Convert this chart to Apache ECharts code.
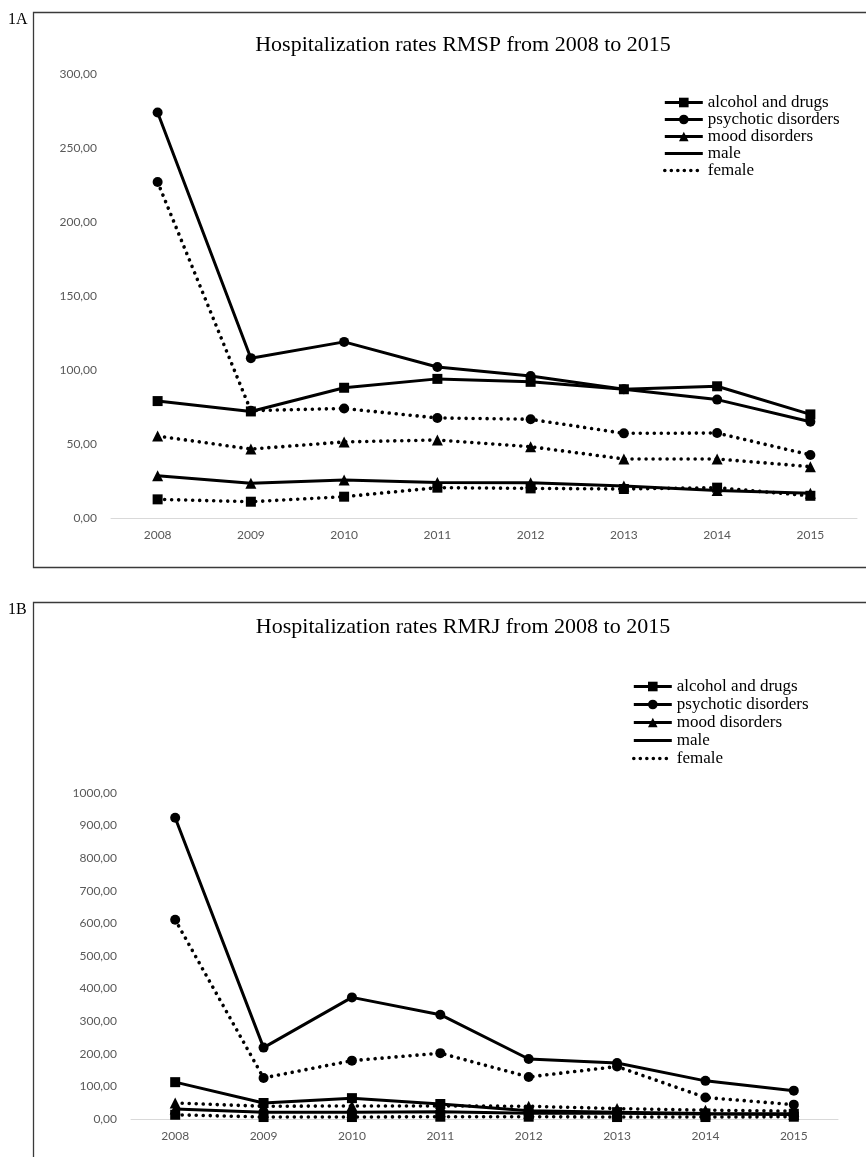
<!DOCTYPE html>
<html>
<head>
<meta charset="utf-8">
<script src="https://cdn.jsdelivr.net/npm/echarts@6/dist/echarts.min.js"></script>
<style>
html,body{margin:0;padding:0;background:#fff;}
#main{width:866px;height:1157px;}
</style>
</head>
<body>
<div id="main"></div>
<script>
// ---------- data ----------
const years = ['2008','2009','2010','2011','2012','2013','2014','2015'];

// Panel 1A: RMSP
const spAlcoholMale   = [79, 72, 88, 94, 92, 87, 89, 70];
const spAlcoholFemale = [12.6, 11, 14.4, 20.5, 20, 19.6, 20.5, 15];
const spPsychMale     = [274, 108, 119, 102, 96, 87, 80, 65];
const spPsychFemale   = [227, 72.5, 74, 67.6, 66.7, 57.2, 57.4, 42.6];
const spMoodMale      = [28.6, 23.4, 25.7, 24, 23.9, 21.6, 18.5, 16.7];
const spMoodFemale    = [55.4, 46.6, 51.4, 52.7, 48.2, 39.9, 39.9, 34.7];

// Panel 1B: RMRJ
const rjAlcoholMale   = [113, 49, 64, 46, 25, 21, 17, 16];
const rjAlcoholFemale = [13, 6, 6, 7, 7, 6, 6, 7];
const rjPsychMale     = [924, 219, 373, 320, 184, 172, 117, 87];
const rjPsychFemale   = [611, 126, 179, 202, 129, 161, 66, 44];
const rjMoodMale      = [31, 21, 21, 22, 18, 18, 15, 14];
const rjMoodFemale    = [49, 39, 40, 40, 39, 32, 27, 24];

const titleA = 'Hospitalization rates RMSP from 2008 to 2015';
const titleB = 'Hospitalization rates RMRJ from 2008 to 2015';
const legendNames = ['alcohol and drugs', 'psychotic disorders', 'mood disorders', 'male', 'female'];

// ---------- styling ----------
const serif = '"Liberation Serif", "DejaVu Serif", serif';
const sans = 'Lato, "Open Sans", sans-serif';
const solidLine = {color: '#000', width: 3};
const dotLine = {color: '#000', width: 3.6, type: [0.01, 7], cap: 'round'};
const fmt = v => v.toFixed(2).replace('.', ',');

function mk(name, data, symbol, size, dotted, idx) {
  return {
    type: 'line', name, data,
    xAxisIndex: idx, yAxisIndex: idx,
    symbol, symbolSize: size,
    itemStyle: {color: '#000'},
    lineStyle: dotted ? dotLine : solidLine,
    emphasis: {disabled: true},
    z: dotted ? 2 : 3
  };
}
function panelSeries(idx, d) {
  return [
    mk('alcohol and drugs', d.am, 'rect', 10, false, idx),
    mk('psychotic disorders', d.pm, 'circle', 10, false, idx),
    mk('mood disorders', d.mm, 'triangle', 11, false, idx),
    {type: 'line', name: 'male', data: [], xAxisIndex: idx, yAxisIndex: idx, symbol: 'none', lineStyle: solidLine, itemStyle: {color: '#000'}},
    {type: 'line', name: 'female', data: [], xAxisIndex: idx, yAxisIndex: idx, symbol: 'none', lineStyle: dotLine, itemStyle: {color: '#000'}},
    mk('alcohol and drugs', d.af, 'rect', 10, true, idx),
    mk('psychotic disorders', d.pf, 'circle', 10, true, idx),
    mk('mood disorders', d.mf, 'triangle', 11, true, idx)
  ];
}

function xAx(idx) {
  return {
    type: 'category', data: years, gridIndex: idx, boundaryGap: true,
    axisLine: {lineStyle: {color: '#d9d9d9', width: 1}},
    axisTick: {show: false},
    axisLabel: {color: '#595959', fontFamily: sans, fontSize: 12, margin: 11}
  };
}
function yAx(idx, max, interval) {
  return {
    type: 'value', gridIndex: idx, min: 0, max, interval,
    axisLine: {show: false}, axisTick: {show: false},
    splitLine: {show: false},
    axisLabel: {color: '#595959', fontFamily: sans, fontSize: 12, margin: 14, formatter: fmt}
  };
}
function legend(top, left, gap) {
  return {
    data: legendNames.map(n => {
      if (n === 'male') return {name: n, itemStyle: {color: 'rgba(0,0,0,0)', opacity: 0, borderWidth: 0}, lineStyle: {width: 3.2}};
      if (n === 'female') return {name: n, itemStyle: {color: 'rgba(0,0,0,0)', opacity: 0, borderWidth: 0}, lineStyle: {width: 3.6, type: [0.01, 6.5], cap: 'round'}};
      return {name: n, lineStyle: {width: 3.2}};
    }),
    orient: 'vertical', left, top,
    itemWidth: 38, itemHeight: 12, itemGap: gap, padding: 0,
    selectedMode: false,
    lineStyle: {width: 3.2},
    textStyle: {fontFamily: serif, fontSize: 17, color: '#000', lineHeight: 16, padding: [0, 0, 0, 0]}
  };
}

const chart = echarts.init(document.getElementById('main'), null, {renderer: 'canvas'});
chart.setOption({
  animation: false,
  backgroundColor: '#fff',
  title: [
    {text: titleA, left: 458, top: 29, textAlign: 'center',
     textStyle: {fontFamily: serif, fontSize: 22, fontWeight: 'normal', color: '#000'}},
    {text: titleB, left: 458, top: 611, textAlign: 'center',
     textStyle: {fontFamily: serif, fontSize: 22, fontWeight: 'normal', color: '#000'}}
  ],
  legend: [legend(94, 663, 0), legend(678, 632, 1)],
  grid: [
    {left: 111, right: 9, top: 74, bottom: 639, containLabel: false},
    {left: 131, right: 28, top: 793, bottom: 38, containLabel: false}
  ],
  xAxis: [xAx(0), xAx(1)],
  yAxis: [yAx(0, 300, 50), yAx(1, 1000, 100)],
  series: [].concat(
    panelSeries(0, {am: spAlcoholMale, af: spAlcoholFemale, pm: spPsychMale, pf: spPsychFemale, mm: spMoodMale, mf: spMoodFemale}),
    panelSeries(1, {am: rjAlcoholMale, af: rjAlcoholFemale, pm: rjPsychMale, pf: rjPsychFemale, mm: rjMoodMale, mf: rjMoodFemale})
  ),
  graphic: [
    {type: 'rect', shape: {x: 33.5, y: 12.5, width: 900, height: 555}, style: {fill: null, stroke: '#3a3a3a', lineWidth: 1.3}, silent: true, z: -1},
    {type: 'rect', shape: {x: 33.5, y: 602.5, width: 900, height: 700}, style: {fill: null, stroke: '#3a3a3a', lineWidth: 1.3}, silent: true, z: -1},
    {type: 'text', left: 8, top: 12, style: {text: '1A', font: '16px ' + serif, fill: '#000'}, silent: true},
    {type: 'text', left: 8, top: 602, style: {text: '1B', font: '16px ' + serif, fill: '#000'}, silent: true}
  ]
});
</script>
</body>
</html>
